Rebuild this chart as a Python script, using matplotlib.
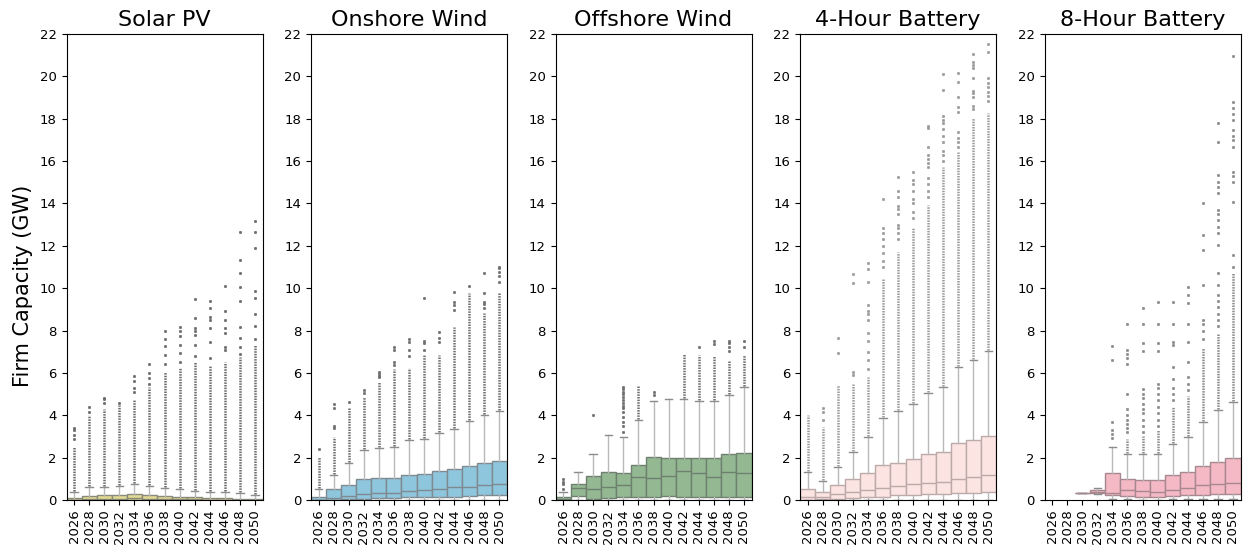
import numpy as np
import matplotlib
matplotlib.use("Agg")
import matplotlib.pyplot as plt

# survey years, one box per year
years = [2026, 2028, 2030, 2032, 2034, 2036, 2038, 2040, 2042, 2044, 2046, 2048, 2050]

# ---- Solar PV ----
solar_min = [0.0] * 13
solar_q1 = [0.0, 0.0, 0.0, 0.0, 0.0, 0.0, 0.0, 0.0, 0.0, 0.0, 0.0, 0.0, 0.0]
solar_med = [0.02, 0.05, 0.06, 0.07, 0.08, 0.07, 0.05, 0.04, 0.03, 0.02, 0.02, 0.01, 0.01]
solar_q3 = [0.10, 0.21, 0.22, 0.25, 0.30, 0.25, 0.20, 0.16, 0.12, 0.09, 0.08, 0.06, 0.03]
solar_whi = [0.36, 0.60, 0.63, 0.68, 0.74, 0.66, 0.57, 0.50, 0.42, 0.38, 0.38, 0.31, 0.22]
solar_dense = [2.52, 4.0, 4.28, 4.5, 4.72, 5.35, 6.06, 6.22, 6.53, 6.37, 6.53, 6.77, 7.3]
solar_out = [[2.9, 3.05, 3.3, 3.4], [4.15, 4.38], [4.6, 4.75, 4.83], [4.58],
             [5.1, 5.3, 5.6, 5.87], [5.5, 5.75, 6.0, 6.42], [6.4, 6.85, 7.25, 7.6, 7.98],
             [6.5, 6.95, 7.3, 7.75, 8.0, 8.15], [6.8, 7.3, 7.8, 8.0, 8.1, 8.6, 9.5],
             [6.7, 7.45, 8.1, 8.5, 8.65, 9.05, 9.4], [7.1, 7.2, 7.9, 8.1, 8.5, 8.9, 10.1],
             [6.9, 7.24, 7.63, 8.15, 9.4, 10.04, 10.7, 11.33, 12.64],
             [7.6, 8.2, 8.77, 9.52, 9.88, 11.88, 12.67, 13.19]]

# ---- Onshore Wind ----
onshore_min = [0.0] * 13
onshore_q1 = [0.0, 0.0, 0.03, 0.06, 0.08, 0.09, 0.13, 0.13, 0.16, 0.16, 0.19, 0.22, 0.25]
onshore_med = [0.02, 0.08, 0.20, 0.27, 0.33, 0.35, 0.41, 0.47, 0.53, 0.60, 0.60, 0.72, 0.75]
onshore_q3 = [0.16, 0.50, 0.71, 0.98, 1.02, 1.05, 1.20, 1.23, 1.37, 1.45, 1.60, 1.73, 1.82]
onshore_whi = [0.50, 1.18, 1.73, 2.36, 2.45, 2.52, 2.82, 2.87, 3.15, 3.35, 3.74, 4.03, 4.19]
onshore_dense = [2.05, 2.99, 4.40, 4.88, 5.59, 6.2, 6.22, 6.89, 6.84, 8.18, 9.75, 8.81, 9.79]
onshore_out = [[2.39], [3.4, 3.5, 4.33, 4.54], [4.64], [5.05, 5.19], [5.8, 5.87, 5.95, 6.06],
               [6.37, 6.53, 7.08, 7.24], [6.8, 7.08, 7.48, 7.59], [7.08, 7.43, 7.52, 9.55],
               [7.48, 7.63, 7.95], [8.97, 9.2, 9.36, 9.83], [10.1],
               [9.05, 9.23, 9.36, 9.75, 10.73], [10.3, 10.57, 10.78, 10.94, 11.0]]

# ---- Offshore Wind ----
offshore_min = [0.0] * 13
offshore_q1 = [0.0, 0.20, 0.05, 0.08, 0.13, 0.15, 0.16, 0.17, 0.16, 0.16, 0.16, 0.16, 0.16]
offshore_med = [0.05, 0.55, 0.53, 0.63, 0.69, 1.07, 1.05, 1.15, 1.38, 1.29, 1.10, 1.31, 1.26]
offshore_q3 = [0.13, 0.77, 1.12, 1.32, 1.29, 1.65, 2.01, 1.98, 2.00, 1.97, 1.97, 2.16, 2.20]
offshore_whi = [0.36, 1.31, 2.16, 3.05, 2.99, 3.78, 4.69, 4.75, 4.77, 4.69, 4.69, 4.96, 5.32]
offshore_dense = [0.36, 1.31, 2.16, 3.05, 2.99, 5.45, 4.69, 4.75, 6.89, 6.85, 6.80, 6.61, 6.84]
offshore_out = [[0.5, 0.76, 0.87, 1.0], [], [4.01], [],
                [3.23, 3.51, 3.7, 3.93, 4.17, 4.33, 4.44, 4.6, 4.72, 4.88, 5.0, 5.11, 5.23, 5.32],
                [], [4.98, 5.1], [], [], [7.24], [7.37, 7.52], [7.05, 7.24, 7.4, 7.52], [7.21, 7.52]]

# ---- 4-Hour Battery ----
bat4_min = [0.0] * 13
bat4_q1 = [0.0, 0.05, 0.06, 0.09, 0.13, 0.16, 0.22, 0.25, 0.27, 0.28, 0.31, 0.35, 0.36]
bat4_med = [0.13, 0.16, 0.28, 0.36, 0.46, 0.55, 0.65, 0.74, 0.80, 0.87, 0.99, 1.07, 1.18]
bat4_q3 = [0.54, 0.36, 0.69, 0.98, 1.29, 1.65, 1.76, 1.94, 2.16, 2.28, 2.69, 2.85, 3.02]
bat4_whi = [1.32, 0.91, 1.57, 2.28, 2.99, 3.86, 4.20, 4.52, 5.04, 5.32, 6.29, 6.59, 7.02]
bat4_dense = [4.0, 3.46, 5.43, 5.5, 5.82, 10.5, 11.72, 12.83, 13.93, 15.74, 16.45, 18.02, 18.26]
bat4_out = [[], [3.78, 4.17, 4.33], [6.95, 7.63], [5.9, 6.06, 10.26, 10.67],
            [6.2, 6.6, 7.0, 7.5, 7.9, 8.5, 8.78, 8.94, 9.2, 10.29, 10.89, 11.2],
            [11.0, 11.3, 11.65, 12.0, 12.3, 12.6, 12.83, 14.2],
            [12.3, 12.6, 12.85, 13.0, 13.5, 13.75, 13.9, 14.3, 14.6, 15.27],
            [13.3, 13.6, 14.0, 14.2, 14.6, 14.9, 15.1, 15.5],
            [14.3, 14.6, 14.9, 15.2, 15.7, 15.9, 16.1, 16.3, 16.68, 17.56, 17.66],
            [16.0, 16.3, 16.5, 16.9, 17.2, 17.5, 17.78, 17.95, 18.13, 19.36, 20.1],
            [16.68, 16.9, 17.1, 17.39, 18.33, 18.54, 19.01, 19.72, 20.15],
            [18.44, 18.6, 19.04, 19.2, 19.33, 19.91, 20.38, 20.55, 20.69, 21.04],
            [18.85, 19.05, 19.25, 19.5, 19.67, 19.94, 21.14, 21.51]]

# ---- 8-Hour Battery (no builds before 2030) ----
nan = np.nan
bat8_min = [nan, nan, 0.34, 0.30, 0.05, 0.03, 0.02, 0.02, 0.03, 0.04, 0.05, 0.05, 0.05]
bat8_q1 = [nan, nan, 0.34, 0.31, 0.22, 0.19, 0.13, 0.13, 0.19, 0.24, 0.25, 0.28, 0.28]
bat8_med = [nan, nan, 0.34, 0.36, 0.34, 0.47, 0.41, 0.36, 0.47, 0.55, 0.71, 0.74, 0.79]
bat8_q3 = [nan, nan, 0.34, 0.47, 1.26, 0.99, 0.94, 0.93, 1.16, 1.30, 1.60, 1.81, 2.00]
bat8_whi = [nan, nan, 0.34, 0.58, 2.52, 2.17, 2.17, 2.17, 2.64, 2.99, 3.70, 4.25, 4.61]
bat8_dense = [nan, nan, 0.34, 0.58, 2.52, 2.9, 3.0, 3.3, 4.4, 4.9, 7.16, 7.87, 10.7]
bat8_out = [[], [], [], [], [2.91, 3.1, 3.3, 3.67, 6.61, 7.27],
            [3.2, 3.4, 3.6, 3.8, 4.0, 4.3, 5.0, 6.4, 6.7, 6.9, 7.1, 8.3],
            [3.2, 3.5, 3.8, 4.1, 4.3, 4.52, 4.8, 5.0, 5.23, 7.05, 7.43, 8.31, 9.05],
            [3.5, 3.8, 4.1, 4.4, 4.7, 5.0, 5.3, 5.5, 7.05, 7.43, 8.31, 9.36],
            [4.7, 5.0, 5.3, 5.7, 6.29, 7.31, 7.47, 8.31, 9.36],
            [5.2, 5.5, 5.83, 6.53, 7.47, 8.31, 9.29, 9.68, 10.07],
            [7.6, 8.0, 8.3, 8.5, 10.15, 11.8, 12.51, 14.0],
            [8.2, 8.5, 8.8, 9.1, 9.4, 9.68, 10.15, 10.7, 12.04, 12.6, 12.9, 13.2, 13.5,
             13.69, 14.48, 14.8, 15.0, 15.34, 16.88, 17.78],
            [11.0, 11.57, 14.08, 15.03, 15.3, 15.5, 16.68, 17.0, 17.2, 17.47, 17.94, 18.2,
             18.5, 18.81, 20.96]]

panels = [
    ("Solar PV", "#e3da93", "#8a8a7a", "#6a6a6a",
     solar_min, solar_q1, solar_med, solar_q3, solar_whi, solar_dense, solar_out),
    ("Onshore Wind", "#8ec6de", "#7f8a90", "#6e6e6e",
     onshore_min, onshore_q1, onshore_med, onshore_q3, onshore_whi, onshore_dense, onshore_out),
    ("Offshore Wind", "#93b892", "#6f806f", "#6e6e6e",
     offshore_min, offshore_q1, offshore_med, offshore_q3, offshore_whi, offshore_dense, offshore_out),
    ("4-Hour Battery", "#fbe4e2", "#bca9a8", "#9a9a9a",
     bat4_min, bat4_q1, bat4_med, bat4_q3, bat4_whi, bat4_dense, bat4_out),
    ("8-Hour Battery", "#f4b9c4", "#a88890", "#8a8a8a",
     bat8_min, bat8_q1, bat8_med, bat8_q3, bat8_whi, bat8_dense, bat8_out),
]

fig = plt.figure(figsize=(12.45, 5.48), dpi=100)
ax_w, ax_h = 196 / 1245, 466 / 548
lefts = [66.5, 311, 555.5, 800, 1044.5]

for k, (title, fill, edge, dotc, lo, q1, med, q3, whi, dense, out) in enumerate(panels):
    ax = fig.add_axes([lefts[k] / 1245, 48 / 548, ax_w, ax_h])
    pos = np.arange(len(years))

    stats, spos = [], []
    for i in range(len(years)):
        if np.isnan(med[i]):
            continue
        stats.append(dict(med=med[i], q1=q1[i], q3=q3[i],
                          whislo=lo[i], whishi=whi[i], fliers=[]))
        spos.append(pos[i])

    ax.bxp(stats, positions=spos, widths=1.0, patch_artist=True, showfliers=False,
           capwidths=0.5,
           boxprops=dict(facecolor=fill, edgecolor=edge, linewidth=1.0),
           medianprops=dict(color=edge, linewidth=1.0),
           whiskerprops=dict(color="#b8b8b8", linewidth=1.0),
           capprops=dict(color="#8c8c8c", linewidth=1.0))

    # dense runs of outliers above the upper whisker
    for i in range(len(years)):
        if np.isnan(dense[i]) or dense[i] <= whi[i]:
            continue
        ax.vlines(pos[i], whi[i] + 0.05, dense[i], colors=dotc,
                  linewidth=1.8, linestyles=(0, (0.6, 0.45)), zorder=3)

    # isolated outliers
    fx = [pos[i] for i in range(len(years)) for _ in out[i]]
    fy = [v for i in range(len(years)) for v in out[i]]
    ax.plot(fx, fy, "o", ms=1.8, mfc=dotc, mec=dotc, mew=0.4, zorder=3)

    ax.set_xlim(-0.5, len(years) - 0.5)
    ax.set_ylim(0, 22)
    ax.set_yticks(range(0, 23, 2))
    ax.set_xticks(pos)
    ax.set_xticklabels([str(y) for y in years], rotation=90, fontsize=9.5)
    ax.tick_params(axis="y", labelsize=9.5)
    ax.set_title(title, fontsize=16)
    if k == 0:
        ax.set_ylabel("Firm Capacity (GW)", fontsize=15)
        ax.yaxis.set_label_coords(-0.17, 0.46)

fig.savefig("out.png", dpi=100)
